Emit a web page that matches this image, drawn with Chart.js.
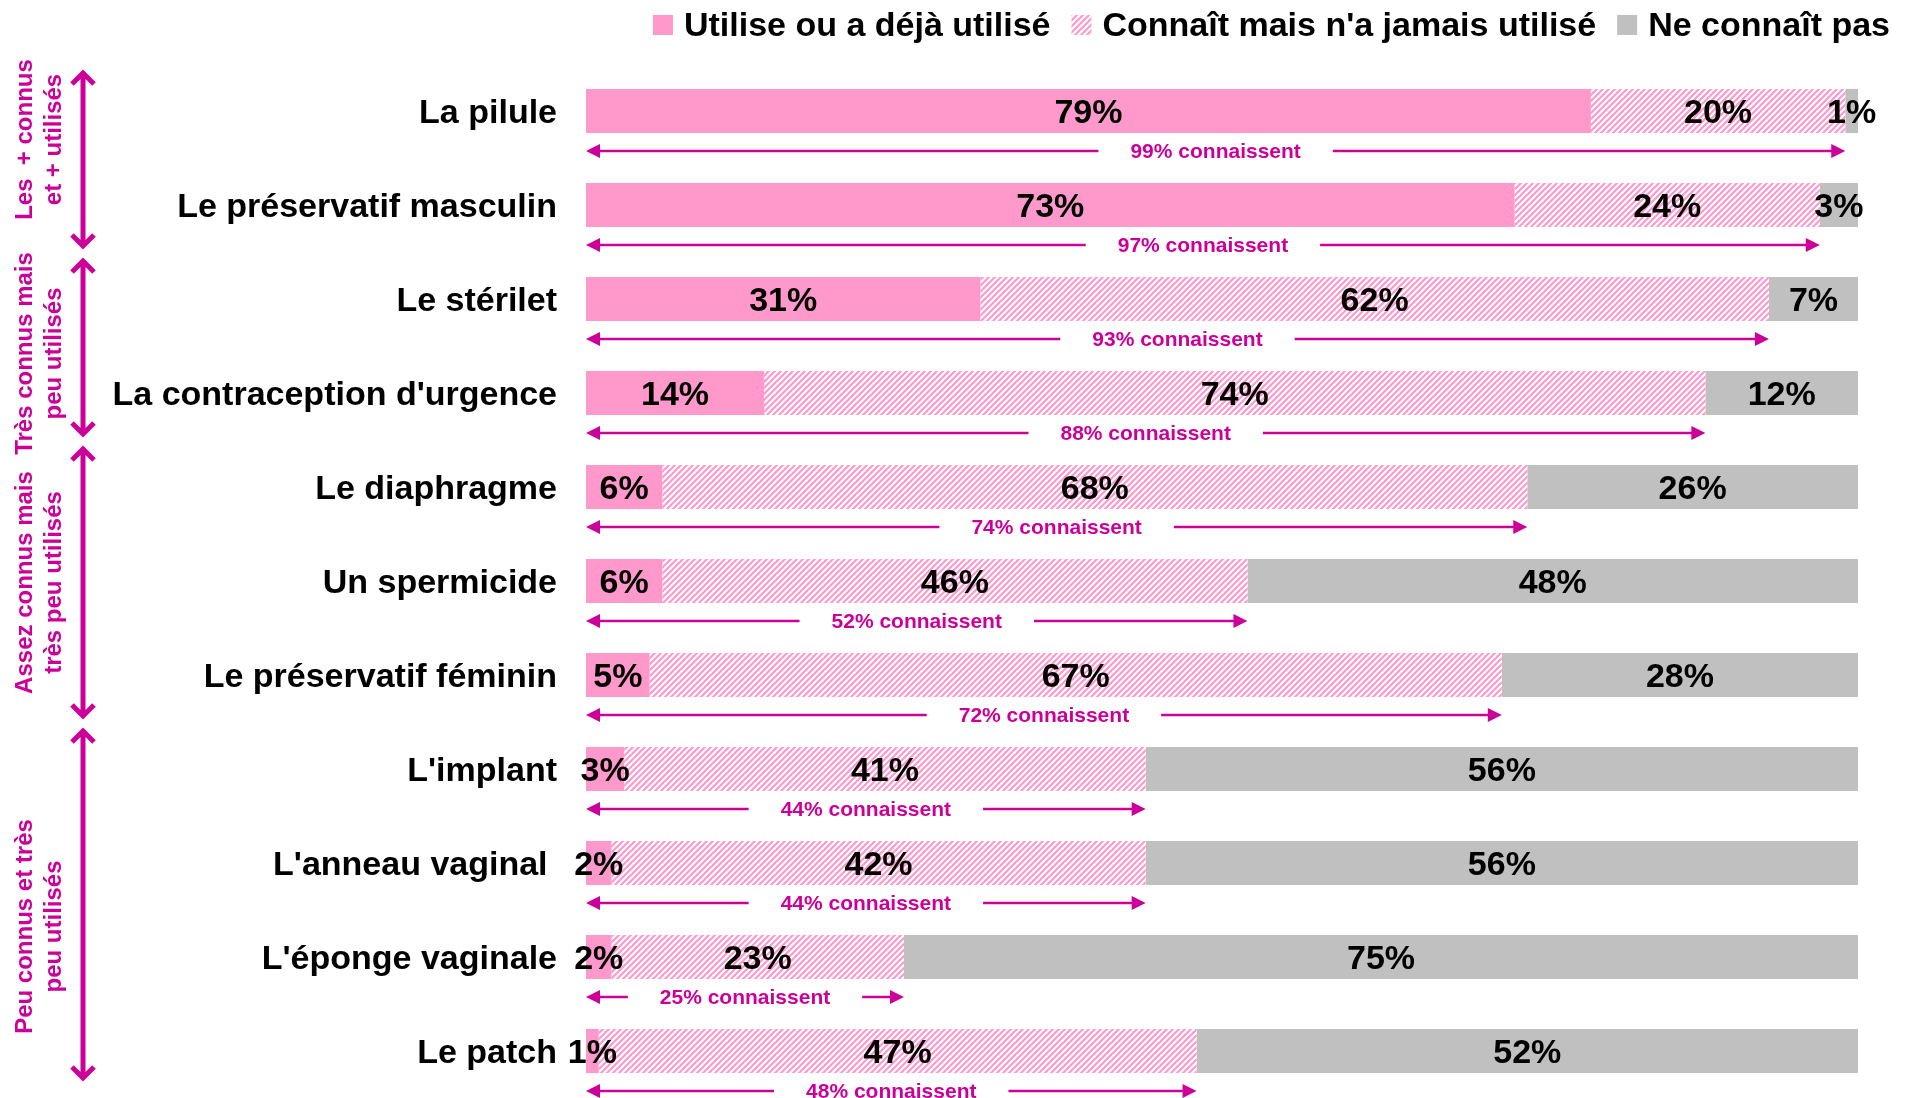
<!DOCTYPE html>
<html lang="fr">
<head>
<meta charset="utf-8">
<title>Connaissance et utilisation des moyens de contraception</title>
<script src="https://cdn.jsdelivr.net/npm/chart.js@4.4.1/dist/chart.umd.min.js"></script>
<style>
    html, body { margin: 0; padding: 0; background: #ffffff; overflow: hidden; }
    canvas { display: block; }
</style>
</head>
<body>
<canvas id="chart" width="1912" height="1098"></canvas>
<script>
// Data
const methods = [
    'La pilule',
    'Le préservatif masculin',
    'Le stérilet',
    "La contraception d'urgence",
    'Le diaphragme',
    'Un spermicide',
    'Le préservatif féminin',
    "L'implant",
    "L'anneau vaginal ",
    "L'éponge vaginale",
    'Le patch'
];
const used = [79, 73, 31, 14, 6, 6, 5, 3, 2, 2, 1];
const knownNotUsed = [20, 24, 62, 74, 68, 46, 67, 41, 42, 23, 47];
const unknown = [1, 3, 7, 12, 26, 48, 28, 56, 56, 75, 52];
const knownTotal = [99, 97, 93, 88, 74, 52, 72, 44, 44, 25, 48];
const seriesNames = ['Utilise ou a déjà utilisé', "Connaît mais n'a jamais utilisé", 'Ne connaît pas'];

// Groups shown on the left side
const groupLines = [
    ['Les  + connus', 'et + utilisés'],
    ['Très connus mais', 'peu utilisés'],
    ['Assez connus mais', 'très peu utilisés'],
    ['Peu connus et très', 'peu utilisés']
];
const groupFirst = [0, 2, 4, 7];
const groupLast = [1, 3, 6, 10];

const PINK = '#FF99CC';
const GREY = '#C0C0C0';
const MAGENTA = '#CC0099';
const FONT = '"Liberation Sans", Arial, sans-serif';

// Diagonal hatch for "connaît mais n'a jamais utilisé"
function makeHatch() {
    const c = document.createElement('canvas');
    c.width = 6;
    c.height = 6;
    const g = c.getContext('2d');
    g.fillStyle = '#FFFFFF';
    g.fillRect(0, 0, 6, 6);
    g.strokeStyle = PINK;
    g.lineWidth = 2.2;
    g.beginPath();
    g.moveTo(-1, 1); g.lineTo(1, -1);
    g.moveTo(0, 6); g.lineTo(6, 0);
    g.moveTo(5, 7); g.lineTo(7, 5);
    g.stroke();
    return g.createPattern(c, 'repeat');
}

function arrowHead(ctx, tipX, tipY, dir) {
    // filled triangle pointing left (dir=-1) or right (dir=1)
    ctx.beginPath();
    ctx.moveTo(tipX, tipY);
    ctx.lineTo(tipX - dir * 14, tipY - 7);
    ctx.lineTo(tipX - dir * 14, tipY + 7);
    ctx.closePath();
    ctx.fill();
}

const annotations = {
    id: 'annotations',
    afterDatasetsDraw(chart) {
        const ctx = chart.ctx;
        const xs = chart.scales.x;
        const ys = chart.scales.y;

        // Legend, right aligned above the bars
        ctx.save();
        ctx.font = 'bold 34px ' + FONT;
        ctx.textBaseline = 'alphabetic';
        ctx.textAlign = 'left';
        let right = 1890;
        for (let i = seriesNames.length - 1; i >= 0; i--) {
            const w = ctx.measureText(seriesNames[i]).width;
            const tx = right - w;
            ctx.fillStyle = '#000000';
            ctx.fillText(seriesNames[i], tx, 36);
            ctx.fillStyle = chart.data.datasets[i].backgroundColor;
            ctx.fillRect(tx - 31, 15, 20, 20);
            right = tx - 31 - 21;
        }
        ctx.restore();

        // Percent labels in the bars
        ctx.save();
        ctx.font = 'bold 34px ' + FONT;
        ctx.fillStyle = '#000000';
        ctx.textAlign = 'center';
        ctx.textBaseline = 'middle';
        chart.data.datasets.forEach((ds, di) => {
            chart.getDatasetMeta(di).data.forEach((bar, i) => {
                ctx.fillText(ds.data[i] + '%', (bar.base + bar.x) / 2, bar.y + 3);
            });
        });
        ctx.restore();

        // "xx% connaissent" arrows
        ctx.save();
        ctx.font = 'bold 21px ' + FONT;
        ctx.fillStyle = MAGENTA;
        ctx.strokeStyle = MAGENTA;
        ctx.lineWidth = 2.5;
        ctx.textAlign = 'center';
        ctx.textBaseline = 'middle';
        knownTotal.forEach((k, i) => {
            const yy = ys.getPixelForValue(i) + 40;
            const x0 = xs.getPixelForValue(0);
            const x1 = xs.getPixelForValue(k);
            const xm = (x0 + x1) / 2;
            const label = k + '% connaissent';
            const half = ctx.measureText(label).width / 2 + 32;
            ctx.fillText(label, xm, yy + 1);
            ctx.beginPath();
            ctx.moveTo(x0 + 10, yy);
            ctx.lineTo(xm - half, yy);
            ctx.moveTo(xm + half, yy);
            ctx.lineTo(x1 - 10, yy);
            ctx.stroke();
            arrowHead(ctx, x0, yy, -1);
            arrowHead(ctx, x1, yy, 1);
        });
        ctx.restore();

        // Group brackets on the left
        const band = ys.getPixelForValue(1) - ys.getPixelForValue(0);
        const textShift = [-20, 6, 0, 22];
        ctx.save();
        ctx.strokeStyle = MAGENTA;
        ctx.fillStyle = MAGENTA;
        ctx.lineWidth = 5;
        ctx.lineJoin = 'miter';
        ctx.lineCap = 'butt';
        ctx.font = 'bold 24px ' + FONT;
        ctx.textAlign = 'center';
        ctx.textBaseline = 'middle';
        groupLines.forEach((lines, g) => {
            const top = ys.getPixelForValue(groupFirst[g]) - band / 2 + 7;
            const bottom = Math.min(ys.getPixelForValue(groupLast[g]) + band / 2 - 4, chart.height - 18);
            const ax = 83;
            ctx.beginPath();
            ctx.moveTo(ax, top + 3);
            ctx.lineTo(ax, bottom - 3);
            ctx.moveTo(ax - 11, top + 13);
            ctx.lineTo(ax, top + 2);
            ctx.lineTo(ax + 11, top + 13);
            ctx.moveTo(ax - 11, bottom - 13);
            ctx.lineTo(ax, bottom - 2);
            ctx.lineTo(ax + 11, bottom - 13);
            ctx.stroke();

            const mid = (top + bottom) / 2 + textShift[g];
            lines.forEach((t, li) => {
                ctx.save();
                ctx.translate(25 + li * 29, mid);
                ctx.rotate(-Math.PI / 2);
                ctx.fillText(t, 0, 0);
                ctx.restore();
            });
        });
        ctx.restore();
    }
};

const hatch = makeHatch();

new Chart(document.getElementById('chart'), {
    type: 'bar',
    data: {
        labels: methods,
        datasets: [
            { label: seriesNames[0], data: used, backgroundColor: PINK, borderWidth: 0 },
            { label: seriesNames[1], data: knownNotUsed, backgroundColor: hatch, borderWidth: 0 },
            { label: seriesNames[2], data: unknown, backgroundColor: GREY, borderWidth: 0 }
        ]
    },
    options: {
        indexAxis: 'y',
        responsive: false,
        animation: false,
        layout: { padding: { left: 0, right: 54, top: 64, bottom: 0 } },
        datasets: {
            bar: { categoryPercentage: 1, barPercentage: 0.47 }
        },
        plugins: {
            tooltip: { enabled: false },
            legend: { display: false }
        },
        scales: {
            x: {
                type: 'linear',
                stacked: true,
                min: 0,
                max: 100,
                display: false
            },
            y: {
                type: 'category',
                stacked: true,
                offset: true,
                grid: { display: false, drawTicks: false },
                border: { display: false },
                ticks: {
                    color: '#000000',
                    padding: 29,
                    labelOffset: 3,
                    autoSkip: false,
                    font: { family: FONT, size: 34, weight: 'bold' }
                },
                afterFit: s => {
                    s.width = 586;
                    s.paddingTop = 0;
                    s.paddingBottom = 0;
                }
            }
        }
    },
    plugins: [annotations]
});
</script>
</body>
</html>
